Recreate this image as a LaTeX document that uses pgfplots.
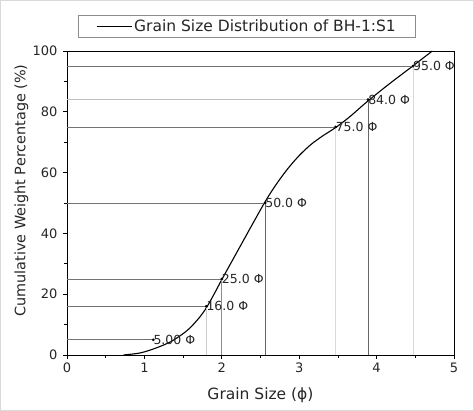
\documentclass[border=0pt]{standalone}
\usepackage{pgfplots}
\pgfplotsset{compat=1.18}
\usepackage{fontspec}
\setmainfont{DejaVu Sans}
\begin{document}
\begin{tikzpicture}
\useasboundingbox (0,0) rectangle (474pt,411pt);
\draw[black!15,line width=1pt] (0.5pt,0.5pt) rectangle (473.5pt,410.5pt);
\begin{axis}[
  at={(67pt,56pt)}, anchor=south west,
  scale only axis, width=387pt, height=304pt,
  xmin=0, xmax=5, ymin=0, ymax=100,
  xtick={0,1,2,3,4,5}, ytick={0,20,40,60,80,100},
  minor xtick={0.5,1.5,2.5,3.5,4.5}, minor ytick={10,30,50,70,90},
  tick pos=left, tick align=outside,
  major tick length=4pt, minor tick length=3pt,
  every tick/.style={black, line width=0.6pt},
  axis line style={black, line width=0.8pt},
  /pgf/number format/assume math mode=true,
  tick label style={font=\fontsize{13}{14}\selectfont, text=black!85},
  xticklabel style={yshift=0pt},
  yticklabel style={xshift=-2pt},
  xlabel={Grain Size (ϕ)},
  ylabel={Cumulative Weight Percentage (\%)},
  label style={text=black!85},
  xlabel style={font=\fontsize{15.5}{17}\selectfont, at={(axis description cs:0.5,-0.1315)}, anchor=center},
  ylabel style={font=\fontsize{14.4}{16}\selectfont, at={(axis description cs:-0.1176,0.541)}, anchor=center},
  legend style={at={(0.465,1.0806)}, anchor=center, draw=black!45, line width=0.6pt,
    font=\fontsize{15.5}{17}\selectfont, text=black!85, inner xsep=18pt, inner ysep=2.5pt,
    legend cell align=left},
  legend image code/.code={\draw[#1] (0pt,0pt) -- (35pt,0pt);},
  clip=false,
]
\addplot[black, line width=1.1pt, smooth, tension=0.5] coordinates {
 (0.73,0) (0.95,0.7) (1.15,2.3) (1.35,4.5) (1.55,8.0) (1.70,12.0) (1.80,15.5)
 (1.90,20.0) (2.00,24.8) (2.28,37.7) (2.55,50) (2.70,56) (2.85,61.2) (3.00,65.6)
 (3.15,69.2) (3.30,72.0) (3.47,74.8) (3.65,78.3) (3.89,83.6) (4.17,89.3)
 (4.47,95.1) (4.72,100)
};
\addlegendentry{Grain Size Distribution of BH-1:S1}
% horizontal projection lines
\addplot[black!55, line width=0.7pt, forget plot] coordinates {(0,5) (1.115,5)};
\addplot[black!55, line width=0.7pt, forget plot] coordinates {(0,16) (1.80,16)};
\addplot[black!55, line width=0.7pt, forget plot] coordinates {(0,25) (2.00,25)};
\addplot[black!55, line width=0.7pt, forget plot] coordinates {(0,50) (2.56,50)};
\addplot[black!55, line width=0.7pt, forget plot] coordinates {(0,75) (3.47,75)};
\addplot[black!25, line width=0.7pt, forget plot] coordinates {(0,84) (3.89,84)};
\addplot[black!55, line width=0.7pt, forget plot] coordinates {(0,95) (4.47,95)};
% vertical projection lines
\addplot[black!20, line width=0.7pt, forget plot] coordinates {(1.80,0) (1.80,16)};
\addplot[black!45, line width=0.7pt, forget plot] coordinates {(2.00,0) (2.00,25)};
\addplot[black!60, line width=0.7pt, forget plot] coordinates {(2.56,0) (2.56,50)};
\addplot[black!15, line width=0.7pt, forget plot] coordinates {(3.47,0) (3.47,75)};
\addplot[black!60, line width=0.7pt, forget plot] coordinates {(3.89,0) (3.89,84)};
\addplot[black!15, line width=0.7pt, forget plot] coordinates {(4.47,0) (4.47,95)};
% points with labels
\addplot[only marks, mark=*, mark size=1.2pt, black, forget plot,
  point meta=explicit symbolic,
  nodes near coords={\pgfplotspointmeta{} Φ},
  every node near coord/.style={anchor=west, xshift=-1pt, inner sep=1pt,
    font=\fontsize{12.5}{13}\selectfont, text=black!85}]
  table[meta=lab] {
x y lab
1.115 5 5.00
1.80 16 16.0
2.00 25 25.0
2.56 50 50.0
3.47 75 75.0
3.89 84 84.0
4.47 95 95.0
};
\end{axis}
\end{tikzpicture}
\end{document}
